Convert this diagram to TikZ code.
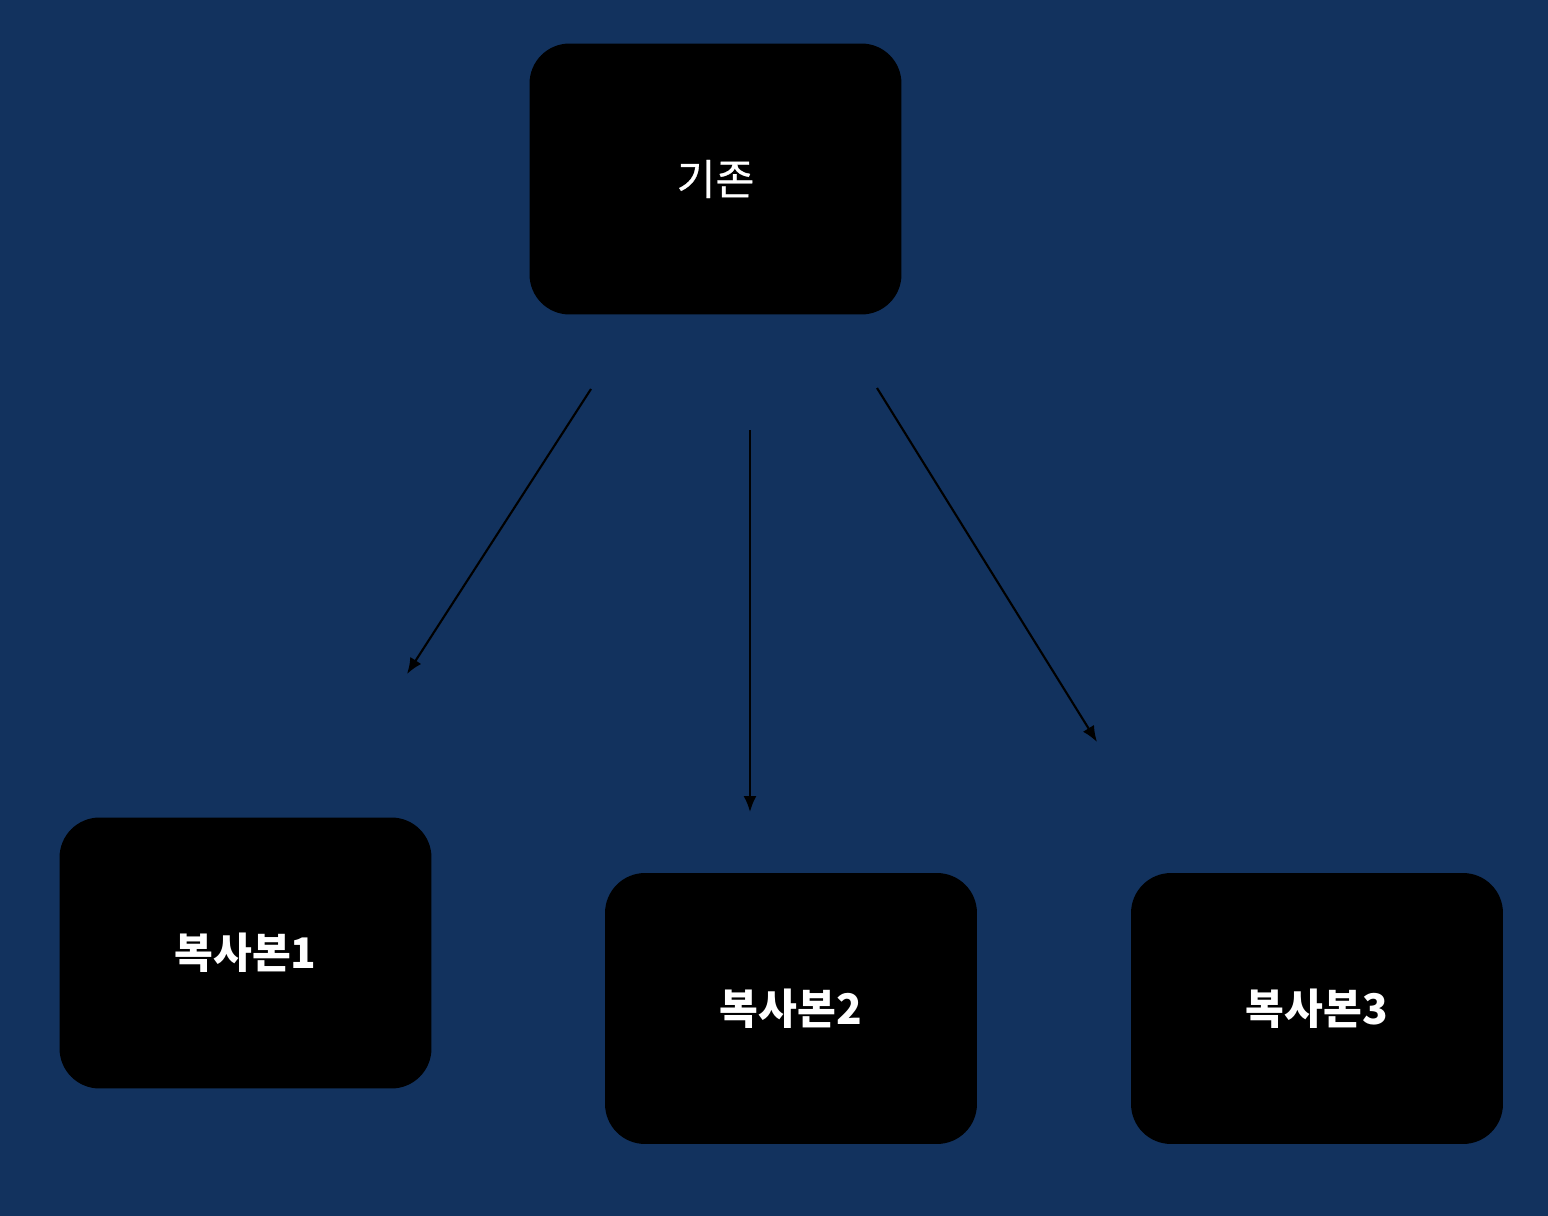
\documentclass[tikz,border=0pt]{standalone}
\usepackage{fontspec}
\usepackage{xcolor}
\usepackage{tikz}
\usetikzlibrary{positioning,arrows.meta}
\newfontfamily\krfont[FakeBold=0.6]{Noto Sans CJK KR}
\newfontfamily\krbold{Noto Sans CJK KR}
\definecolor{navybg}{HTML}{12325E}

\begin{document}
\begin{tikzpicture}[
    x=0.02cm, y=-0.02cm,
    box/.style={fill=black, draw=none, rounded corners=0.8cm, minimum width=7.44cm, minimum height=5.42cm, align=center, text=white, font=\krfont\fontsize{24}{28}\selectfont},
    copybox/.style={box, font=\krbold\bfseries\fontsize{24}{28}\selectfont},
    arr/.style={-{Latex[length=3.2mm, width=2.6mm]}, line width=1.2pt, draw=black}
]
    \fill[navybg] (0,0) rectangle (1548,1216);
    \useasboundingbox (0,0) rectangle (1548,1216);

    \node[box] (orig) at (715.5,179) {기존};
    \node[copybox] (copy1) at (245.5,953) {복사본1};
    \node[copybox] (copy2) at (791,1008.5) {복사본2};
    \node[copybox] (copy3) at (1317,1008.5) {복사본3};

    % free arrows
    \coordinate (s1) at (591,389);  \coordinate (e1) at (407,674);
    \coordinate (s2) at (750,430);  \coordinate (e2) at (750,812);
    \coordinate (s3) at (877,388);  \coordinate (e3) at (1097,742);

    \draw[arr] (s1) -- (e1); \draw[arr] (s2) -- (e2); \draw[arr] (s3) -- (e3);
\end{tikzpicture}
\end{document}
